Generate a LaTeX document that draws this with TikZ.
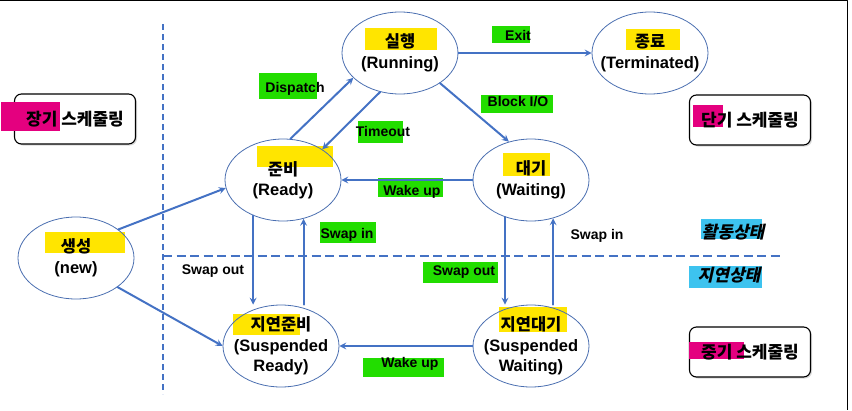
\documentclass[tikz,border=0pt]{standalone}
\usepackage{fontspec}
\setmainfont{Liberation Sans}
\newfontfamily\kr{Noto Sans CJK KR}
\newfontfamily\krsl{Noto Sans CJK KR}[FakeSlant=0.22]
\usetikzlibrary{shapes.geometric,shadows}
\definecolor{lineblue}{HTML}{4472C4}
\definecolor{ellblue}{HTML}{4A6EB0}
\definecolor{hlyellow}{HTML}{FFE500}
\definecolor{hlgreen}{HTML}{22DD00}
\definecolor{hlpink}{HTML}{E4007F}
\definecolor{hlcyan}{HTML}{3DC3EF}
\tikzset{
	state/.style={ellipse, draw=ellblue, line width=.8pt, minimum width=2*\rx, minimum height=2*\ry, inner sep=0},
	stxt/.style={align=center, font=\bfseries\fontsize{16.5}{20.5}\selectfont},
	evt/.style={font=\bfseries\fontsize{14}{16}\selectfont},
	sched/.style={draw, line width=1.1pt, rounded corners=7pt, fill=white, minimum width=121, minimum height=50,
		drop shadow={shadow xshift=1.5pt, shadow yshift=-1.5pt, opacity=.3}},
	btxt/.style={font=\kr\bfseries\fontsize{17}{20}\selectfont},
	slk/.style={font=\krsl\bfseries\fontsize{17}{20}\selectfont},
	flow/.style={->, draw=lineblue, line width=2pt},
	sep/.style={draw=lineblue, line width=2pt, line cap=butt}
}
\begin{document}
\begin{tikzpicture}[x=1pt, y=-1pt, line join=round, line cap=round, >=stealth]
	\def\rx{58} % ban kinh ngang
	\def\ry{41} % ban kinh doc
	\useasboundingbox (0,0) rectangle (852,410);
	\draw[line width=1.4pt, line cap=butt] (0,.7) -- (847.7,.7) -- (847.7,410);
	% scheduler boxes
	\node[sched] (long) at (75,119) {};
	\node[sched] (short) at (750,120) {};
	\node[sched] (mid) at (750,352) {};
	% highlights
	\foreach \a/\b/\c/\d in {365/28/437/50, 626/29/680/50, 257/146/333/167, 503/153/550/176,
		45/232/125/253, 233/314/300/335, 499/307/567/332}
		\fill[hlyellow] (\a,\b) rectangle (\c,\d);
	\foreach \a/\b/\c/\d in {1/102/60/131, 693/105/723/127, 689/342/744/359}
		\fill[hlpink] (\a,\b) rectangle (\c,\d);
	\foreach \a/\b/\c/\d in {259/73/317/99, 358/121/403/143, 492/26/530/43, 481/95/553/113,
		378/178/443/197, 320/222/376/243, 423/262/498/283, 363/358/444/377}
		\fill[hlgreen] (\a,\b) rectangle (\c,\d);
	\foreach \a/\b/\c/\d in {701/219/762/239, 689/266/762/288}
		\fill[hlcyan] (\a,\b) rectangle (\c,\d);
	% dashed separators
	\draw[sep, dash pattern=on 6pt off 4pt] (163,24) -- (163,394);
	\draw[sep, dash pattern=on 9pt off 4.5pt] (163,256) -- (783,256);
	% states
	\node[state] (run) at (400,53) {};
	\node[state] (term) at (650,53) {};
	\node[state] (ready) at (283,180) {};
	\node[state] (wait) at (531,180) {};
	\node[state] (new) at (76,258) {};
	\node[state] (sready) at (281,346) {};
	\node[state] (swait) at (531,346) {};
	\node[stxt] (runT) at (run) {{\kr 실행}\\(Running)};
	\node[stxt] (termT) at (term) {{\kr 종료}\\(Terminated)};
	\node[stxt] (readyT) at (ready) {{\kr 준비}\\(Ready)};
	\node[stxt] (waitT) at (wait) {{\kr 대기}\\(Waiting)};
	\node[stxt] (newT) at (new) {{\kr 생성}\\(new)};
	\node[stxt] (sreadyT) at (sready) {{\kr 지연준비}\\(Suspended\\Ready)};
	\node[stxt] (swaitT) at (swait) {{\kr 지연대기}\\(Suspended\\Waiting)};
	% transitions
	\draw[flow] (ready.80) -- (run.208);
	\draw[flow] (run.-117) -- (ready.38);
	\draw[flow] (run.east) -- (term.west);
	\draw[flow] (run.-37) -- (wait.120);
	\draw[flow] (wait.west) -- (ready.east);
	\draw[flow] (ready.-130) -- (ready.-130 |- sready.north);
	\draw[flow] (sready.north -| ready.-62) -- (ready.-62);
	\draw[flow] (wait.-125) -- (wait.-125 |- swait.north);
	\draw[flow] (swait.north -| wait.-60) -- (wait.-60);
	\draw[flow] (swait.west) -- (sready.east);
	\draw[flow] (new.34) -- (ready.188);
	\draw[flow] (new.-35) -- (sready.west);
	% labels
	\node[evt] (dis) at (295,89) {Dispatch};
	\node[evt] (tmo) at (383,131) {Timeout};
	\node[evt] (ext) at (518,35) {Exit};
	\node[evt] (blk) at (518,102) {Block I/O};
	\node[evt] (wk1) at (412,192) {Wake up};
	\node[evt] (si1) at (347,235) {Swap in};
	\node[evt] (so1) at (213,271) {Swap out};
	\node[evt] (so2) at (464,272) {Swap out};
	\node[evt] (si2) at (597,236) {Swap in};
	\node[evt] (wk2) at (410,364) {Wake up};
	\node[slk] (act) at (733,232) {활동상태};
	\node[slk] (sus) at (729,275) {지연상태};
	\node[btxt] (longT) at (long) {장기 스케줄링};
	\node[btxt] (shortT) at (short) {단기 스케줄링};
	\node[btxt] (midT) at (mid) {중기 스케줄링};
\end{tikzpicture}
\end{document}
